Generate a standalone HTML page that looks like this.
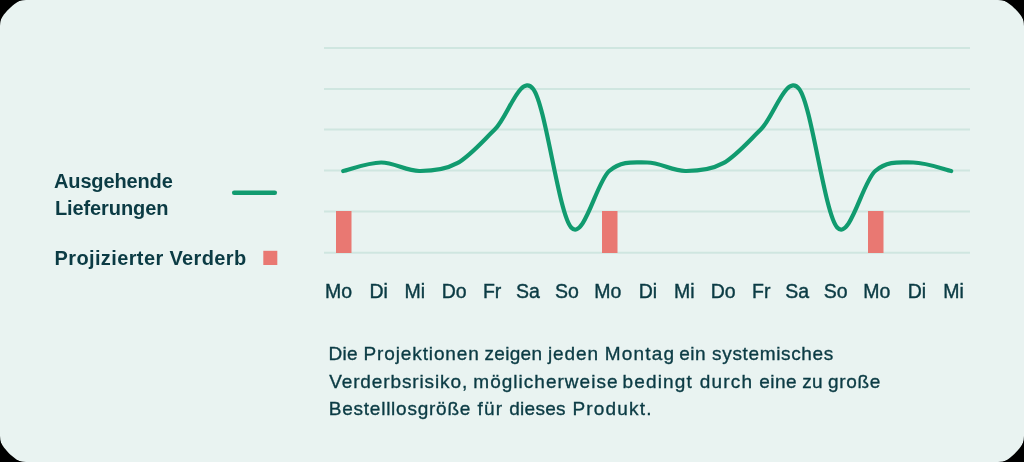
<!DOCTYPE html>
<html><head><meta charset="utf-8">
<style>
html,body{margin:0;padding:0;background:#000;}
body{width:1024px;height:462px;overflow:hidden;font-family:"Liberation Sans",sans-serif;}
#card{position:absolute;left:0;top:0;width:1024px;height:462px;background:#e9f3f1;clip-path:path('M0,22.8 C0,16.19 16.19,0 22.8,0 L1001.2,0 C1007.81,0 1024,16.19 1024,22.8 L1024,439.2 C1024,445.81 1007.81,462 1001.2,462 L22.8,462 C16.19,462 0,445.81 0,439.2 Z');border-radius:26px;overflow:hidden;will-change:transform;}
.t{position:absolute;white-space:nowrap;color:#0b3b44;}
.leg{font-weight:bold;font-size:20px;line-height:28px;}
.day{font-size:19.5px;line-height:22px;transform:translateX(-50%);color:#0b3b44;-webkit-text-stroke:0.4px #0b3b44;}
.p{font-size:19px;line-height:28px;letter-spacing:0.65px;-webkit-text-stroke:0.35px #0b3b44;}
svg{position:absolute;left:0;top:0;}
</style></head><body>
<div id="card">
<svg width="1024" height="462" viewBox="0 0 1024 462">
<g stroke="#cfe6e0" stroke-width="2">
<line x1="324" x2="970" y1="48" y2="48"/>
<line x1="324" x2="970" y1="89" y2="89"/>
<line x1="324" x2="970" y1="129.6" y2="129.6"/>
<line x1="324" x2="970" y1="170.5" y2="170.5"/>
<line x1="324" x2="970" y1="211.4" y2="211.4"/>
<line x1="324" x2="970" y1="252.8" y2="252.8"/>
</g>
<g fill="#e97872">
<rect x="336" y="211" width="15.5" height="42"/>
<rect x="602" y="211" width="15.5" height="42"/>
<rect x="868" y="211" width="15.5" height="42"/>
</g>
<path id="curve" fill="none" stroke="#119b6f" stroke-width="4.2" stroke-linecap="round" stroke-linejoin="round"
d="M343.20,171.00 C349.53,169.58 368.53,162.50 381.20,162.50 C393.87,162.50 406.53,170.88 419.20,171.00 C431.87,171.12 444.53,170.20 457.20,163.20 C469.87,156.20 482.53,141.37 495.20,129.00 C507.87,116.63 520.53,72.58 533.20,89.00 C545.87,105.42 558.53,213.83 571.20,227.50 C583.87,241.17 596.53,181.83 609.20,171.00 C621.87,160.17 634.53,162.50 647.20,162.50 C659.87,162.50 672.53,170.88 685.20,171.00 C697.87,171.12 710.53,170.20 723.20,163.20 C735.87,156.20 748.53,141.37 761.20,129.00 C773.87,116.63 786.53,72.58 799.20,89.00 C811.87,105.42 824.53,213.83 837.20,227.50 C849.87,241.17 862.53,181.83 875.20,171.00 C887.87,160.17 900.53,162.50 913.20,162.50 C925.87,162.50 944.87,169.58 951.20,171.00"/>
<line x1="234.2" x2="274.8" y1="192.8" y2="192.8" stroke="#119b6f" stroke-width="4.5" stroke-linecap="round"/>
<rect x="263.3" y="250.8" width="14" height="14.2" fill="#e97872"/>
</svg>
<div class="t leg" style="left:54px;top:166.8px;letter-spacing:-0.14px;">Ausgehende</div>
<div class="t leg" style="left:54.9px;top:194.1px;letter-spacing:-0.09px;">Lieferungen</div>
<div class="t leg" style="left:54.5px;top:244px;letter-spacing:0.38px;">Projizierter Verderb</div>

<div class="t day" style="left:338.6px;top:280px;">Mo</div>
<div class="t day" style="left:378.6px;top:280px;">Di</div>
<div class="t day" style="left:414.8px;top:280px;">Mi</div>
<div class="t day" style="left:454.2px;top:280px;">Do</div>
<div class="t day" style="left:492.1px;top:280px;">Fr</div>
<div class="t day" style="left:528.0px;top:280px;">Sa</div>
<div class="t day" style="left:566.9px;top:280px;">So</div>
<div class="t day" style="left:607.8px;top:280px;">Mo</div>
<div class="t day" style="left:647.9px;top:280px;">Di</div>
<div class="t day" style="left:684.3px;top:280px;">Mi</div>
<div class="t day" style="left:723.1px;top:280px;">Do</div>
<div class="t day" style="left:761.3px;top:280px;">Fr</div>
<div class="t day" style="left:797.2px;top:280px;">Sa</div>
<div class="t day" style="left:835.8px;top:280px;">So</div>
<div class="t day" style="left:876.9px;top:280px;">Mo</div>
<div class="t day" style="left:917.0px;top:280px;">Di</div>
<div class="t day" style="left:953.6px;top:280px;">Mi</div>

<div class="t p" style="left:328.40px;top:340.0px;letter-spacing:0.350px;">Die</div>
<div class="t p" style="left:363.50px;top:340.0px;letter-spacing:0.882px;">Projektionen</div>
<div class="t p" style="left:484.55px;top:340.0px;letter-spacing:0.300px;">zeigen</div>
<div class="t p" style="left:547.90px;top:340.0px;letter-spacing:0.950px;">jeden</div>
<div class="t p" style="left:604.70px;top:340.0px;letter-spacing:1.200px;">Montag</div>
<div class="t p" style="left:679.30px;top:340.0px;letter-spacing:0.500px;">ein</div>
<div class="t p" style="left:712.10px;top:340.0px;letter-spacing:0.645px;">systemisches</div>
<div class="t p" style="left:329.20px;top:367.6px;letter-spacing:0.879px;">Verderbsrisiko,</div>
<div class="t p" style="left:473.30px;top:367.6px;letter-spacing:1.023px;">möglicherweise</div>
<div class="t p" style="left:622.60px;top:367.6px;letter-spacing:1.133px;">bedingt</div>
<div class="t p" style="left:699.80px;top:367.6px;letter-spacing:1.200px;">durch</div>
<div class="t p" style="left:759.20px;top:367.6px;letter-spacing:0.500px;">eine</div>
<div class="t p" style="left:802.15px;top:367.6px;letter-spacing:0.300px;">zu</div>
<div class="t p" style="left:827.90px;top:367.6px;letter-spacing:0.700px;">große</div>
<div class="t p" style="left:328.80px;top:395.0px;letter-spacing:0.757px;">Bestelllosgröße</div>
<div class="t p" style="left:477.55px;top:395.0px;letter-spacing:1.200px;">für</div>
<div class="t p" style="left:509.15px;top:395.0px;letter-spacing:0.300px;">dieses</div>
<div class="t p" style="left:572.40px;top:395.0px;letter-spacing:1.200px;">Produkt.</div>
</div>
</body></html>
